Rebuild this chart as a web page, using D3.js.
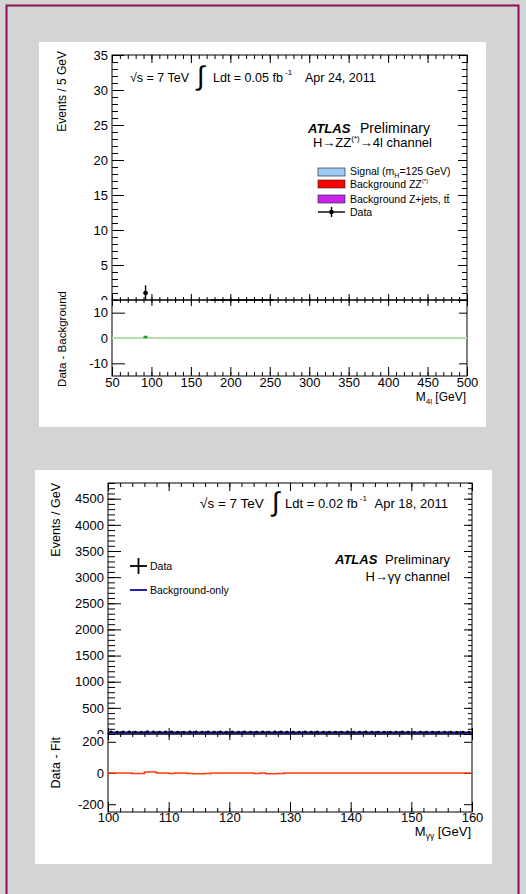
<!DOCTYPE html>
<html>
<head>
<meta charset="utf-8">
<script src="https://cdn.jsdelivr.net/npm/d3@7"></script>
<style>
  body { margin: 0; background: #d4d4d4; }
  text { font-family: "Liberation Sans", Arial, Helvetica, sans-serif; fill: #000; }
</style>
</head>
<body>
<svg id="chart" width="526" height="894"></svg>
<script>
// ---- H -> ZZ(*) -> 4l panel (5 GeV bins)
const zzMass = [92.5, 177.5, 182.5, 187.5, 192.5, 197.5, 202.5, 207.5, 212.5,
                217.5, 222.5, 227.5, 232.5, 237.5, 242.5, 247.5, 252.5];
const zzEvents = [1, 0, 0, 0, 0, 0, 0, 0, 0, 0, 0, 0, 0, 0, 0, 0, 0];
const zzErrUp = [1.1, 0, 0, 0, 0, 0, 0, 0, 0, 0, 0, 0, 0, 0, 0, 0, 0];
const zzErrDown = [1.0, 0, 0, 0, 0, 0, 0, 0, 0, 0, 0, 0, 0, 0, 0, 0, 0];
const zzResidMass = [92.5];
const zzResid = [0.4];
const zzYTicks = [0, 5, 10, 15, 20, 25, 30, 35];
const zzXTicks = [50, 100, 150, 200, 250, 300, 350, 400, 450, 500];
const zzRTicks = [-10, 0, 10];
const zzLegend = ["Signal", "Background ZZ", "Background Z+jets, t", "Data"];

// ---- H -> gamma gamma panel (1 GeV bins)
const ggMass = [100.5, 101.5, 102.5, 103.5, 104.5, 105.5, 106.5, 107.5, 108.5, 109.5,
                110.5, 111.5, 112.5, 113.5, 114.5, 115.5, 116.5, 117.5, 118.5, 119.5,
                120.5, 121.5, 122.5, 123.5, 124.5, 125.5, 126.5, 127.5, 128.5, 129.5,
                130.5, 131.5, 132.5, 133.5, 134.5, 135.5, 136.5, 137.5, 138.5, 139.5,
                140.5, 141.5, 142.5, 143.5, 144.5, 145.5, 146.5, 147.5, 148.5, 149.5,
                150.5, 151.5, 152.5, 153.5, 154.5, 155.5, 156.5, 157.5, 158.5, 159.5];
const ggEvents = [42, 39, 41, 44, 38, 36, 45, 40, 37, 41, 43, 39, 35, 40, 42, 38, 41, 39, 44, 37,
                  40, 36, 42, 39, 38, 41, 37, 40, 43, 38, 36, 39, 41, 37, 40, 38, 35, 39, 37, 41,
                  36, 38, 40, 37, 39, 35, 38, 36, 40, 37, 34, 38, 36, 39, 35, 37, 36, 34, 38, 35];
const ggFitMass = [100, 160];
const ggFit = [30, 27];
const ggResid = [0, 0, 0, 0, -4, -4, 6, 6, 0, 0, -4, 0, 0, -3, -5, -5, -3, 0, 0, 0,
                 0, 0, 0, 0, -4, 0, -5, -5, -4, 0, 0, 0, 0, 0, 0, 0, 0, 0, 0, 0,
                 0, 0, 0, 0, 0, 0, 0, 0, 0, 0, 0, 0, 0, 0, 0, 0, 0, 0, 0, 0];
const ggYTicks = [0, 500, 1000, 1500, 2000, 2500, 3000, 3500, 4000, 4500];
const ggXTicks = [100, 110, 120, 130, 140, 150, 160];
const ggRTicks = [-200, 0, 200];

const FONT = '"Liberation Sans", Arial, Helvetica, sans-serif';
const svg = d3.select("#chart");

// background, frame and the two white pads
svg.append("rect").attr("x", 6.5).attr("y", 5.5).attr("width", 512).attr("height", 900)
    .attr("fill", "#d4d4d4").attr("stroke", "#8c1150").attr("stroke-width", 2);
svg.append("rect").attr("x", 39).attr("y", 42).attr("width", 447).attr("height", 385).attr("fill", "#fff");
svg.append("rect").attr("x", 35).attr("y", 470).attr("width", 457).attr("height", 394).attr("fill", "#fff");

const defs = svg.append("defs");
// clip in absolute page coordinates (applied to an untransformed wrapper group)
function clipAbove(id, yCut) {
    defs.append("clipPath").attr("id", id)
        .append("rect").attr("x", 0).attr("y", 0).attr("width", 526).attr("height", yCut);
    return svg.append("g").attr("clip-path", "url(#" + id + ")");
}

// one set of ticks through a d3 axis, ticks pointing inward
function ticks(fn, scale, vals, size, at, labels, pad, parent) {
    const a = fn(scale).tickValues(vals).tickSize(size).tickPadding(pad || 3)
        .tickFormat(labels ? d => String(d) : () => "");
    const g = (parent || svg).append("g").attr("transform", at).call(a);
    g.select(".domain").remove();
    g.attr("font-family", FONT).attr("font-size", 13);
    g.selectAll("line").attr("stroke", "#000");
    g.selectAll("text").attr("fill", "#000");
    return g;
}
function frame(x0, x1, y0, y1) {
    svg.append("rect").attr("x", x0).attr("y", y0).attr("width", x1 - x0).attr("height", y1 - y0)
        .attr("fill", "none").attr("stroke", "#000").attr("stroke-width", 1);
}
function minors(lo, hi, step) { return d3.range(lo, hi + step / 2, step); }

// ================= top: H -> ZZ -> 4l =================
const xZ = d3.scaleLinear().domain([50, 500]).range([112, 467]);
const yZ = d3.scaleLinear().domain([0, 35]).range([300, 55]);
const yZr = d3.scaleLinear().domain([-15, 15]).range([376, 300]);

frame(112, 467, 55, 300);
frame(112, 467, 300, 376);

// main pad ticks
const clipZ = clipAbove("clipZ", 300);
ticks(d3.axisLeft, yZ, zzYTicks, -12, "translate(112,0)", true, 4, clipZ);
ticks(d3.axisLeft, yZ, minors(0, 35, 1), -6, "translate(112,0)", false);
ticks(d3.axisRight, yZ, zzYTicks, -9, "translate(467,0)", false);
ticks(d3.axisRight, yZ, minors(0, 35, 1), -5, "translate(467,0)", false);
ticks(d3.axisTop, xZ, zzXTicks, -8, "translate(0,55)", false);
ticks(d3.axisTop, xZ, minors(50, 500, 10), -4, "translate(0,55)", false);
ticks(d3.axisBottom, xZ, zzXTicks, -6, "translate(0,300)", false);
ticks(d3.axisBottom, xZ, minors(50, 500, 10), -3, "translate(0,300)", false);
// ratio pad ticks
ticks(d3.axisTop, xZ, zzXTicks, -6, "translate(0,300)", false);
ticks(d3.axisTop, xZ, minors(50, 500, 10), -3, "translate(0,300)", false);
ticks(d3.axisLeft, yZr, zzRTicks, -13, "translate(112,0)", true, 4);
ticks(d3.axisRight, yZr, zzRTicks, -8, "translate(467,0)", false);
ticks(d3.axisBottom, xZ, zzXTicks, -9, "translate(0,376)", true, 2);
ticks(d3.axisBottom, xZ, minors(50, 500, 10), -4, "translate(0,376)", false);

// ratio baseline and residual
svg.append("line").attr("x1", xZ(50)).attr("x2", xZ(500)).attr("y1", yZr(0)).attr("y2", yZr(0))
    .attr("stroke", "#b4dcae").attr("stroke-width", 2);
svg.append("g").selectAll("line").data(zzResidMass).join("line")
    .attr("x1", d => xZ(d - 2.5)).attr("x2", d => xZ(d + 2.5))
    .attr("y1", (d, i) => yZr(zzResid[i])).attr("y2", (d, i) => yZr(zzResid[i]))
    .attr("stroke", "#21a321").attr("stroke-width", 2.5);

// data points
const zz = zzMass.map((m, i) => ({ m, v: zzEvents[i], up: zzErrUp[i], dn: zzErrDown[i] }));
const gz = svg.append("g");
gz.selectAll(".hb").data(zz).join("line")
    .attr("x1", d => xZ(d.m - 2.5)).attr("x2", d => xZ(d.m + 2.5))
    .attr("y1", d => yZ(d.v)).attr("y2", d => yZ(d.v))
    .attr("stroke", "#000").attr("stroke-width", 1.4);
gz.selectAll(".vb").data(zz.filter(d => d.v > 0)).join("line")
    .attr("x1", d => xZ(d.m)).attr("x2", d => xZ(d.m))
    .attr("y1", d => yZ(d.v + d.up)).attr("y2", d => yZ(d.v - d.dn))
    .attr("stroke", "#000").attr("stroke-width", 1.4);
gz.selectAll("circle").data(zz.filter(d => d.v > 0)).join("circle")
    .attr("cx", d => xZ(d.m)).attr("cy", d => yZ(d.v)).attr("r", 2.3).attr("fill", "#000");

// axis titles
svg.append("text").attr("transform", "translate(66,51) rotate(-90)").attr("text-anchor", "end")
    .attr("font-size", 12).text("Events / 5 GeV");
svg.append("text").attr("transform", "translate(66,291) rotate(-90)").attr("text-anchor", "end")
    .attr("font-size", 11.5).text("Data - Background");
const xtZ = svg.append("text").attr("x", 466).attr("y", 401).attr("text-anchor", "end").attr("font-size", 12);
xtZ.append("tspan").text("M");
xtZ.append("tspan").attr("font-size", 8).attr("dy", 3).text("4l");
xtZ.append("tspan").attr("dy", -3).text(" [GeV]");

// labels
svg.append("text").attr("x", 130).attr("y", 82).attr("font-size", 12.5).text("\u221As = 7 TeV");
svg.append("text").attr("x", 197).attr("y", 85).attr("font-size", 27).text("\u222B");
const lz = svg.append("text").attr("x", 213).attr("y", 82).attr("font-size", 12.5);
lz.append("tspan").text("Ldt = 0.05 fb");
lz.append("tspan").attr("font-size", 8).attr("dy", -7).text(" -1");
svg.append("text").attr("x", 305).attr("y", 82).attr("font-size", 12.5).text("Apr 24, 2011");
svg.append("text").attr("x", 308).attr("y", 133).attr("font-size", 13)
    .attr("font-weight", "bold").attr("font-style", "italic").text("ATLAS");
svg.append("text").attr("x", 430).attr("y", 133).attr("text-anchor", "end").attr("font-size", 14).text("Preliminary");
const hz = svg.append("text").attr("x", 432).attr("y", 147).attr("text-anchor", "end").attr("font-size", 13);
hz.append("tspan").text("H\u2192ZZ");
hz.append("tspan").attr("font-size", 8).attr("dy", -6).text("(*)");
hz.append("tspan").attr("dy", 6).text("\u21924l channel");

// legend
const legZ = svg.append("g").attr("font-size", 10.5);
const swatch = [["#9ccbf5", 168], ["#ff0000", 180], ["#cc22ee", 195]];
swatch.forEach(([c, y]) => legZ.append("rect").attr("x", 318).attr("y", y).attr("width", 27).attr("height", 8)
    .attr("fill", c).attr("stroke", "#333").attr("stroke-width", 0.7));
legZ.append("line").attr("x1", 318).attr("x2", 345).attr("y1", 212).attr("y2", 212).attr("stroke", "#000").attr("stroke-width", 1.4);
legZ.append("line").attr("x1", 331.5).attr("x2", 331.5).attr("y1", 207).attr("y2", 217).attr("stroke", "#000").attr("stroke-width", 1.4);
legZ.append("circle").attr("cx", 331.5).attr("cy", 212).attr("r", 2.3).attr("fill", "#000");
const t1 = legZ.append("text").attr("x", 350).attr("y", 175);
t1.append("tspan").text(zzLegend[0] + " (m");
t1.append("tspan").attr("font-size", 7).attr("dy", 3).text("H");
t1.append("tspan").attr("dy", -3).text("=125 GeV)");
const t2 = legZ.append("text").attr("x", 350).attr("y", 188);
t2.append("tspan").text(zzLegend[1]);
t2.append("tspan").attr("font-size", 6).attr("dy", -5).text("(*)");
const t3 = legZ.append("text").attr("x", 350).attr("y", 203);
t3.append("tspan").text(zzLegend[2]);
t3.append("tspan").text("t\u0304");
legZ.append("text").attr("x", 350).attr("y", 216).text(zzLegend[3]);

// ================= bottom: H -> gamma gamma =================
const xG = d3.scaleLinear().domain([100, 160]).range([108, 472]);
const yG = d3.scaleLinear().domain([0, 4800]).range([734, 483]);
const yGr = d3.scaleLinear().domain([-250, 250]).range([812, 734]);

frame(108, 472, 483, 734);
frame(108, 472, 734, 812);

const clipG = clipAbove("clipG", 734);
ticks(d3.axisLeft, yG, ggYTicks, -13, "translate(108,0)", true, 4, clipG);
ticks(d3.axisLeft, yG, minors(0, 4800, 100), -7, "translate(108,0)", false);
ticks(d3.axisRight, yG, ggYTicks, -8, "translate(472,0)", false);
ticks(d3.axisRight, yG, minors(0, 4800, 100), -4, "translate(472,0)", false);
ticks(d3.axisTop, xG, ggXTicks, -8, "translate(0,483)", false);
ticks(d3.axisTop, xG, minors(100, 160, 2), -4, "translate(0,483)", false);
ticks(d3.axisBottom, xG, ggXTicks, -6, "translate(0,734)", false);
ticks(d3.axisBottom, xG, minors(100, 160, 2), -3, "translate(0,734)", false);
ticks(d3.axisTop, xG, ggXTicks, -6, "translate(0,734)", false);
ticks(d3.axisTop, xG, minors(100, 160, 2), -3, "translate(0,734)", false);
ticks(d3.axisLeft, yGr, ggRTicks, -8, "translate(108,0)", true, 4);
ticks(d3.axisRight, yGr, ggRTicks, -8, "translate(472,0)", false);
ticks(d3.axisBottom, xG, ggXTicks, -10, "translate(0,812)", true, 1);
ticks(d3.axisBottom, xG, minors(100, 160, 2), -4, "translate(0,812)", false);

// background-only fit
svg.append("path").datum(ggFitMass.map((m, i) => [m, ggFit[i]]))
    .attr("d", d3.line().x(d => xG(d[0])).y(d => yG(d[1])))
    .attr("fill", "none").attr("stroke", "#0a0aa8").attr("stroke-width", 2);

// data points
const gg = ggMass.map((m, i) => ({ m, v: ggEvents[i] }));
const gd = svg.append("g");
gd.selectAll("line").data(gg).join("line")
    .attr("x1", d => xG(d.m - 0.3)).attr("x2", d => xG(d.m + 0.3))
    .attr("y1", d => yG(d.v)).attr("y2", d => yG(d.v))
    .attr("stroke", "#000").attr("stroke-width", 1);
gd.selectAll("circle").data(gg).join("circle")
    .attr("cx", d => xG(d.m)).attr("cy", d => yG(d.v)).attr("r", 1.3).attr("fill", "#000");

// residual histogram
const resid = ggMass.map((m, i) => [m - 0.5, ggResid[i]]);
resid.push([160, ggResid[ggResid.length - 1]]);
svg.append("path").datum(resid)
    .attr("d", d3.line().curve(d3.curveStepAfter).x(d => xG(d[0])).y(d => yGr(d[1])))
    .attr("fill", "none").attr("stroke", "#ff3a10").attr("stroke-width", 1.5);

// axis titles
svg.append("text").attr("transform", "translate(60,483) rotate(-90)").attr("text-anchor", "end")
    .attr("font-size", 12.5).text("Events / GeV");
svg.append("text").attr("transform", "translate(60,737) rotate(-90)").attr("text-anchor", "end")
    .attr("font-size", 12.5).text("Data - Fit");
const xtG = svg.append("text").attr("x", 471).attr("y", 836).attr("text-anchor", "end").attr("font-size", 13);
xtG.append("tspan").text("M");
xtG.append("tspan").attr("font-size", 8.5).attr("dy", 3).text("\u03B3\u03B3");
xtG.append("tspan").attr("dy", -3).text(" [GeV]");

svg.append("text").attr("x", 200).attr("y", 508).attr("font-size", 13.5).text("\u221As = 7 TeV");
svg.append("text").attr("x", 272).attr("y", 511).attr("font-size", 27).text("\u222B");
const lg = svg.append("text").attr("x", 285).attr("y", 508).attr("font-size", 13);
lg.append("tspan").text("Ldt = 0.02 fb");
lg.append("tspan").attr("font-size", 8).attr("dy", -7).text(" -1");
svg.append("text").attr("x", 448).attr("y", 508).attr("text-anchor", "end").attr("font-size", 13).text("Apr 18, 2011");
svg.append("text").attr("x", 335).attr("y", 564).attr("font-size", 13)
    .attr("font-weight", "bold").attr("font-style", "italic").text("ATLAS");
svg.append("text").attr("x", 450).attr("y", 564).attr("text-anchor", "end").attr("font-size", 13).text("Preliminary");
svg.append("text").attr("x", 450).attr("y", 581).attr("text-anchor", "end").attr("font-size", 13)
    .text("H\u2192\u03B3\u03B3 channel");

// legend
svg.append("line").attr("x1", 130).attr("x2", 147).attr("y1", 566).attr("y2", 566).attr("stroke", "#000").attr("stroke-width", 1.8);
svg.append("line").attr("x1", 138.5).attr("x2", 138.5).attr("y1", 558).attr("y2", 574).attr("stroke", "#000").attr("stroke-width", 1.8);
svg.append("text").attr("x", 150).attr("y", 570).attr("font-size", 10.5).text("Data");
svg.append("line").attr("x1", 130).attr("x2", 147).attr("y1", 590).attr("y2", 590).attr("stroke", "#0a0aa8").attr("stroke-width", 1.8);
svg.append("text").attr("x", 150).attr("y", 594).attr("font-size", 10.5).text("Background-only");
</script>
</body>
</html>
